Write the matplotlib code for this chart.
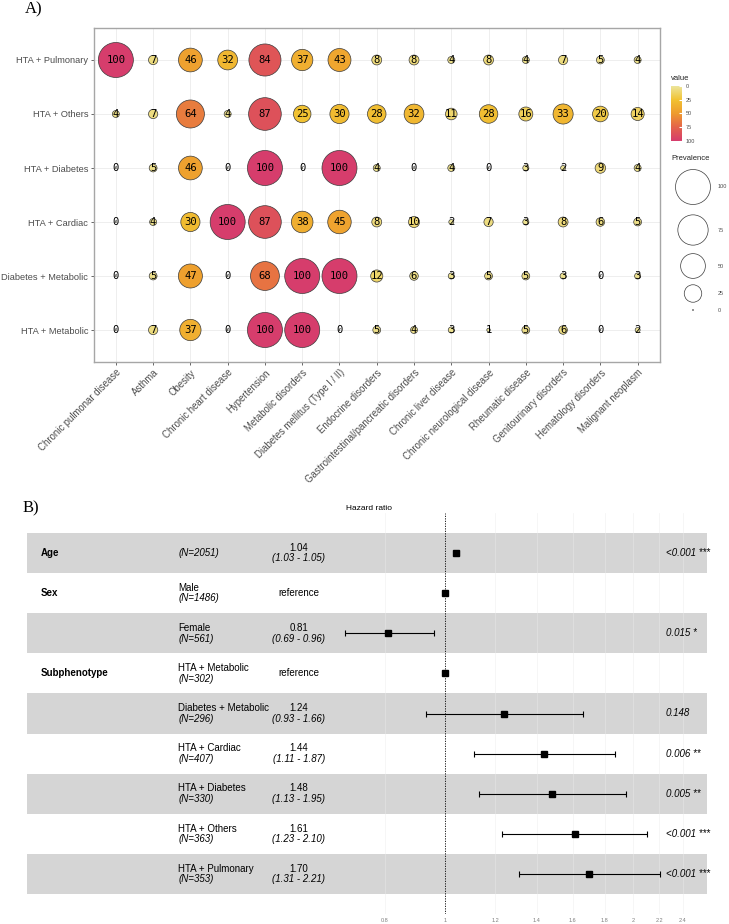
import numpy as np
import matplotlib
matplotlib.use('Agg')
import matplotlib.pyplot as plt
from matplotlib.colors import LinearSegmentedColormap, Normalize
from matplotlib.cm import ScalarMappable

plt.rcParams['font.family'] = ['Liberation Sans', 'DejaVu Sans']

# --- Panel A data: prevalence (%) per subphenotype and comorbidity ---
diseases = ["Chronic pulmonar disease", "Asthma", "Obesity", "Chronic heart disease",
            "Hypertension", "Metabolic disorders", "Diabetes mellitus (Type I / II)",
            "Endocrine disorders", "Gastrointestinal/pancreatic disorders",
            "Chronic liver disease", "Chronic neurological disease", "Rheumatic disease",
            "Genitourinary disorders", "Hematology disorders", "Malignant neoplasm"]

# bottom to top
subphenotypes = ["HTA + Metabolic", "Diabetes + Metabolic", "HTA + Cardiac",
                 "HTA + Diabetes", "HTA + Others", "HTA + Pulmonary"]

hta_metabolic = [0, 7, 37, 0, 100, 100, 0, 5, 4, 3, 1, 5, 6, 0, 2]
diabetes_metabolic = [0, 5, 47, 0, 68, 100, 100, 12, 6, 3, 5, 5, 3, 0, 3]
hta_cardiac = [0, 4, 30, 100, 87, 38, 45, 8, 10, 2, 7, 3, 8, 6, 5]
hta_diabetes = [0, 5, 46, 0, 100, 0, 100, 4, 0, 4, 0, 3, 2, 9, 4]
hta_others = [4, 7, 64, 4, 87, 25, 30, 28, 32, 11, 28, 16, 33, 20, 14]
hta_pulmonary = [100, 7, 46, 32, 84, 37, 43, 8, 8, 4, 8, 4, 7, 5, 4]
prevalence = [hta_metabolic, diabetes_metabolic, hta_cardiac,
              hta_diabetes, hta_others, hta_pulmonary]

legend_sizes = [100, 75, 50, 25, 0]
cbar_ticks = [0, 25, 50, 75, 100]

# --- Panel B data: Cox model ---
variables = ["Age", "Sex", "", "Subphenotype", "", "", "", "", ""]
levels = ["", "Male", "Female", "HTA + Metabolic", "Diabetes + Metabolic",
          "HTA + Cardiac", "HTA + Diabetes", "HTA + Others", "HTA + Pulmonary"]
n_obs = [2051, 1486, 561, 302, 296, 407, 330, 363, 353]
hr = [1.04, 1.0, 0.81, 1.0, 1.24, 1.44, 1.48, 1.61, 1.70]
ci_low = [1.03, np.nan, 0.69, np.nan, 0.93, 1.11, 1.13, 1.23, 1.31]
ci_high = [1.05, np.nan, 0.96, np.nan, 1.66, 1.87, 1.95, 2.10, 2.21]
p_labels = ["<0.001 ***", "", "0.015 *", "", "0.148", "0.006 **",
            "0.005 **", "<0.001 ***", "<0.001 ***"]
hr_ticks = [0.8, 1, 1.2, 1.4, 1.6, 1.8, 2, 2.2, 2.4]

W, H = 729, 924


def fx(px):
    return px / W


def fy(py):
    return 1 - py / H


def bubble_area(v):
    # diameter ~35 px for 100, area proportional to value
    d = 25.2 * np.sqrt(np.asarray(v, dtype=float) / 100)
    return np.maximum(d, 0.7) ** 2


cmap = LinearSegmentedColormap.from_list(
    'prev', [(0.0, '#ECE59C'), (0.25, '#F1C232'), (0.5, '#EE9B2E'),
             (0.75, '#E4644A'), (1.0, '#D63D6C')])
norm = Normalize(0, 100)

fig = plt.figure(figsize=(W / 100, H / 100), dpi=100)

# ================= Panel A =================
ax = fig.add_axes([fx(93.5), fy(362.4), fx(660) - fx(93.5), fy(27.6) - fy(362.4)])
grid_col = '#EBEBEB'
for i in range(len(diseases)):
    ax.axvline(i, color=grid_col, lw=0.6, zorder=0)
for j in range(len(subphenotypes)):
    ax.axhline(j, color=grid_col, lw=0.6, zorder=0)

for j, row in enumerate(prevalence):
    xs = np.arange(len(diseases))
    ys = np.full(len(diseases), j)
    ax.scatter(xs, ys, s=bubble_area(row), c=row, cmap=cmap, norm=norm,
               edgecolors='#3A3A3A', linewidths=0.5, zorder=2)
    for x, v in zip(xs, row):
        ax.text(x, j, str(v), ha='center', va='center', fontsize=7.6,
                family='DejaVu Sans Mono', color='black', zorder=3)

ax.set_xlim(-0.6, len(diseases) - 0.4)
ax.set_ylim(-0.6, len(subphenotypes) - 0.4)
ax.set_xticks(range(len(diseases)))
ax.set_xticklabels(diseases, rotation=45, ha='right', va='top',
                   rotation_mode='anchor', fontsize=6.9, color='#4D4D4D')
ax.set_yticks(range(len(subphenotypes)))
ax.set_yticklabels(subphenotypes, fontsize=6.7, color='#4D4D4D')
ax.tick_params(length=2.5, width=0.6, color='#4D4D4D', pad=1.2)
for sp in ax.spines.values():
    sp.set_color('#A6A6A6')
    sp.set_linewidth(1.0)

fig.text(fx(25), fy(9), 'A)', family='Liberation Serif', fontsize=12,
         ha='left', va='center')

# colour legend
fig.text(fx(670.5), fy(79), 'value', fontsize=5.5, ha='left', va='center', color='#222222')
cax = fig.add_axes([fx(670.7), fy(140.7), 11 / W, 54.7 / H])
cb = fig.colorbar(ScalarMappable(norm=norm, cmap=cmap), cax=cax, ticks=cbar_ticks)
cb.outline.set_visible(False)
cax.invert_yaxis()
cax.tick_params(labelsize=4, length=2, direction='in', color='white',
                labelcolor='#4D4D4D', pad=3)

# size legend
fig.text(fx(671), fy(158), 'Prevalence', fontsize=5.5, ha='left', va='center', color='#222222')
lax = fig.add_axes([0, 0, 1, 1], facecolor='none')
lax.set_xlim(0, W)
lax.set_ylim(H, 0)
lax.axis('off')
key_y = [187, 230, 266, 293.5, 310]
lax.scatter([693] * len(legend_sizes), key_y, s=bubble_area(legend_sizes),
            facecolors='white', edgecolors='#3A3A3A', linewidths=0.5)
for yk, v in zip(key_y, legend_sizes):
    lax.text(718, yk, str(v), fontsize=4, ha='left', va='center', color='#4D4D4D')

# ================= Panel B =================
fax = fig.add_axes([fx(27), fy(914), fx(707) - fx(27), fy(513) - fy(914)])
log_ref = 445.5
ppu = 271.0
fax.set_xscale('log')
fax.set_xlim(np.exp((27 - log_ref) / ppu), np.exp((707 - log_ref) / ppu))
nrow = len(levels)
ys = np.arange(nrow, 0, -1)
fax.set_ylim(0, nrow + 1)

for k, y in enumerate(ys):
    if k % 2 == 0:
        fax.axhspan(y - 0.5, y + 0.5, color='#D5D5D5', lw=0, zorder=0)
for t in hr_ticks:
    if t != 1:
        fax.axvline(t, color='#EBEBEB', alpha=0.6, lw=0.5, zorder=1)
fax.axvline(1, color='black', lw=0.6, ls=(0, (1.5, 1.5)), zorder=2)

for k, y in enumerate(ys):
    if not np.isnan(ci_low[k]):
        fax.errorbar(hr[k], y, xerr=[[hr[k] - ci_low[k]], [ci_high[k] - hr[k]]],
                     fmt='none', ecolor='black', elinewidth=0.8, capsize=2.2,
                     capthick=0.8, zorder=3)
    fax.plot(hr[k], y, marker='s', ms=4.6, color='black', zorder=4)

tr = fax.get_yaxis_transform()
fs = 7
dy = 0.13
for k, y in enumerate(ys):
    if variables[k]:
        fax.text(0.0205, y, variables[k], transform=tr, fontsize=fs,
                 fontweight='bold', ha='left', va='center')
    if levels[k]:
        fax.text(0.2225, y + dy, levels[k], transform=tr, fontsize=fs,
                 ha='left', va='center')
        fax.text(0.2225, y - dy, f'(N={n_obs[k]})', transform=tr, fontsize=fs,
                 style='italic', ha='left', va='center')
    else:
        fax.text(0.2225, y, f'(N={n_obs[k]})', transform=tr, fontsize=fs,
                 style='italic', ha='left', va='center')
    if np.isnan(ci_low[k]):
        fax.text(0.4, y, 'reference', transform=tr, fontsize=fs,
                 ha='center', va='center')
    else:
        fax.text(0.4, y + dy, f'{hr[k]:.2f}', transform=tr, fontsize=fs,
                 ha='center', va='center')
        fax.text(0.4, y - dy, f'({ci_low[k]:.2f} - {ci_high[k]:.2f})', transform=tr,
                 fontsize=fs, style='italic', ha='center', va='center')
    if p_labels[k]:
        fax.text(0.9395, y, p_labels[k], transform=tr, fontsize=fs,
                 style='italic', ha='left', va='center')

fax.set_xticks(hr_ticks)
fax.set_xticklabels([f'{t:g}' for t in hr_ticks])
fax.xaxis.set_minor_locator(matplotlib.ticker.NullLocator())
fax.tick_params(axis='x', labelsize=4, length=0, pad=3, labelcolor='#7F7F7F')
fax.set_yticks([])
for sp in fax.spines.values():
    sp.set_visible(False)

fig.text(fx(369), fy(508), 'Hazard ratio', fontsize=6, ha='center', va='center')
fig.text(fx(23), fy(508), 'B)', family='Liberation Serif', fontsize=12,
         ha='left', va='center')

fig.savefig('out.png', dpi=100)
